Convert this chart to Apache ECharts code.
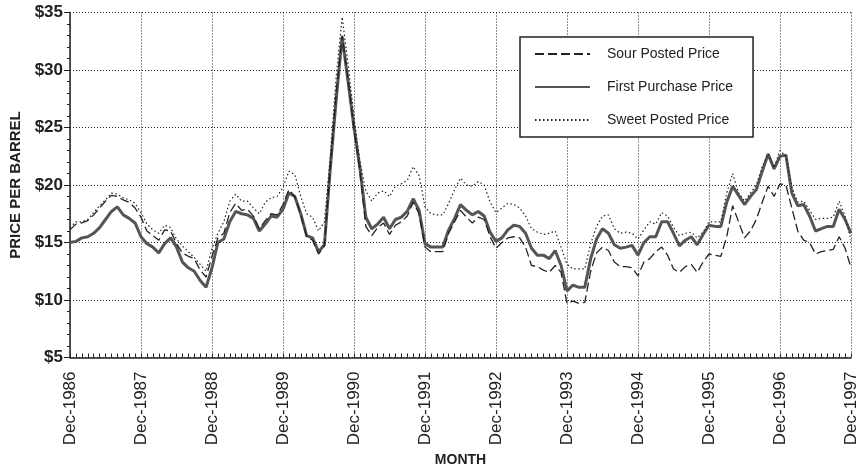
<!DOCTYPE html>
<html>
<head>
<meta charset="utf-8">
<script src="https://cdn.jsdelivr.net/npm/echarts@6/dist/echarts.min.js"></script>
<style>
  html, body { margin: 0; padding: 0; background: #fff; }
  #chart { width: 867px; height: 474px; }
</style>
</head>
<body>
<div id="chart"></div>
<script>
// monthly categories Dec-1986 .. Dec-1997
const monthNames = ['Jan','Feb','Mar','Apr','May','Jun','Jul','Aug','Sep','Oct','Nov','Dec'];
const months = [];
for (let i = 0; i <= 132; i++) {
  const mi = (11 + i) % 12;
  const yr = 1986 + Math.floor((11 + i) / 12);
  months.push(monthNames[mi] + '-' + yr);
}

const yTicks = [5, 10, 15, 20, 25, 30, 35];

const sourPosted = [
  16.1, 16.6, 16.7, 16.9, 17.4, 18.0, 18.6, 19.1, 19.0, 18.7, 18.5, 18.0, 17.2, 16.0, 15.6, 15.2, 16.1, 16.0, 14.9, 14.1, 13.8, 13.6, 12.6, 12.0, 13.8, 15.4, 15.8,
  17.6, 18.4, 17.8, 17.9, 17.3, 16.2, 16.9, 17.5, 17.4, 18.3, 19.6, 19.0, 17.4, 15.5, 15.2, 14.0, 14.7, 21.5, 28.0, 33.0, 29.2, 24.8, 21.2, 16.4, 15.6, 16.3, 16.7, 15.7,
  16.5, 16.8, 17.3, 18.5, 17.5, 14.6, 14.2, 14.2, 14.2, 15.8, 16.8, 17.8, 17.2, 16.7, 17.2, 17.0, 15.5, 14.5, 15.0, 15.4, 15.5, 15.4, 14.6, 13.0, 12.9, 12.6,
  12.4, 13.0, 12.4, 9.7, 9.9, 9.7, 9.8, 12.5, 14.1, 14.6, 14.3, 13.3, 12.9, 12.9, 12.8, 12.1, 13.3, 13.6, 14.2, 14.6, 13.9, 12.7, 12.4, 12.9, 13.1, 12.4, 13.3, 14.0,
  13.9, 13.8, 15.5, 18.2, 16.8, 15.4, 16.0, 17.0, 18.5, 19.9, 19.0, 20.1, 20.0, 18.0, 16.0, 15.2, 15.0, 14.0, 14.2, 14.3, 14.4, 15.5, 14.5, 12.8
];

const firstPurchase = [
  15.0, 15.1, 15.4, 15.5, 15.8, 16.3, 17.0, 17.7, 18.1, 17.4, 17.1, 16.7, 15.5, 14.9, 14.6, 14.1, 14.9, 15.4, 14.6, 13.3, 12.8, 12.5, 11.7, 11.1, 12.8, 15.0, 15.3,
  16.8, 17.7, 17.5, 17.4, 17.1, 16.0, 16.6, 17.3, 17.2, 17.9, 19.3, 19.0, 17.5, 15.6, 15.4, 14.2, 14.8, 21.5, 27.5, 32.9, 29.0, 25.0, 21.5, 17.2, 16.2, 16.6, 17.2, 16.2,
  17.0, 17.2, 17.7, 18.8, 17.8, 14.9, 14.6, 14.6, 14.6, 16.1, 17.1, 18.3, 17.8, 17.4, 17.7, 17.3, 15.9, 15.1, 15.4, 16.1, 16.5, 16.4, 15.8, 14.5, 13.9, 13.9,
  13.6, 14.3, 13.0, 10.8, 11.3, 11.1, 11.1, 13.6, 15.3, 16.2, 15.8, 14.8, 14.5, 14.6, 14.75, 13.9, 15.0, 15.5, 15.5, 16.8, 16.8, 15.8, 14.7, 15.2, 15.5, 14.8, 15.7, 16.5,
  16.4, 16.4, 18.5, 19.9, 19.1, 18.3, 19.0, 19.6, 21.2, 22.7, 21.4, 22.5, 22.6, 19.3, 18.2, 18.3, 17.3, 16.0, 16.2, 16.4, 16.4, 17.9, 17.0, 15.8
];

const sweetPosted = [
  16.3, 16.8, 16.8, 17.0, 17.6, 18.2, 18.7, 19.3, 19.2, 18.9, 18.7, 18.4, 17.6, 16.6, 16.1, 15.8, 16.5, 16.3, 15.3, 14.7, 14.2, 13.7, 13.1, 12.5, 14.5, 15.8, 16.8,
  18.6, 19.2, 18.6, 18.6, 18.0, 17.5, 18.5, 18.9, 19.0, 19.8, 21.2, 20.9, 19.0, 17.5, 17.2, 16.0, 16.8, 22.5, 29.5, 34.6, 30.5, 25.9, 22.0, 19.5, 18.6, 19.3, 19.5, 19.0,
  19.9, 20.1, 20.4, 21.6, 20.8, 18.1, 17.5, 17.4, 17.4, 18.4, 19.6, 20.6, 20.0, 19.9, 20.3, 20.0, 18.5, 17.6, 18.0, 18.4, 18.3, 18.0, 17.3, 16.2, 15.9, 15.7,
  15.8, 16.0, 14.6, 13.1, 12.7, 12.7, 12.7, 14.9, 16.4, 17.3, 17.4, 16.2, 15.8, 15.9, 15.8, 15.3, 16.1, 16.8, 16.6, 17.6, 17.3, 16.3, 15.6, 15.8, 15.9, 15.4, 15.9, 16.8,
  16.8, 16.8, 19.3, 21.0, 19.3, 18.6, 19.3, 20.0, 21.6, 22.7, 21.5, 23.0, 22.5, 19.8, 18.5, 18.6, 17.8, 17.0, 17.1, 17.1, 17.2, 18.6, 17.3, 15.2
];

const chart = echarts.init(document.getElementById('chart'));
const ink = '#222';
const everyDec = (i) => i % 12 === 0;

const option = {
  backgroundColor: '#fff',
  animation: false,
  textStyle: { fontFamily: 'Liberation Sans, Arial, sans-serif' },
  grid: { left: 70, right: 16, top: 12.5, bottom: 116.5, outerBoundsMode: 'none', containLabel: false },
  legend: {
    left: 520,
    top: 37,
    orient: 'vertical',
    backgroundColor: '#fff',
    borderColor: ink,
    borderWidth: 1.5,
    padding: [10, 20, 10, 14],
    itemGap: 19,
    itemWidth: 55,
    itemHeight: 14,
    itemStyle: { opacity: 0 },
    textStyle: { fontSize: 14, color: ink, padding: [0, 0, 0, 12] },
    data: ['Sour Posted Price', 'First Purchase Price', 'Sweet Posted Price']
  },
  xAxis: {
    type: 'category',
    data: months,
    boundaryGap: false,
    name: 'MONTH',
    nameLocation: 'middle',
    nameGap: 95,
    nameTextStyle: { fontSize: 14, fontWeight: 'bold', color: ink },
    axisLine: { lineStyle: { color: ink, width: 1.5 } },
    axisTick: { show: true, inside: true, interval: 0, length: 4, lineStyle: { color: ink } },
    axisLabel: { interval: everyDec, rotate: 90, margin: 14, fontSize: 17, color: ink },
    splitLine: { show: true, interval: everyDec, lineStyle: { color: ink, type: [1, 2], width: 1 } }
  },
  yAxis: {
    type: 'value',
    min: 5,
    max: 35,
    interval: 5,
    name: 'PRICE PER BARREL',
    nameLocation: 'middle',
    nameGap: 47,
    nameRotate: 90,
    nameTextStyle: { fontSize: 15, fontWeight: 'bold', color: ink },
    axisLine: { show: true, lineStyle: { color: ink, width: 1.5 } },
    axisTick: { show: true, length: 6, lineStyle: { color: ink } },
    minorTick: { show: true, splitNumber: 5, length: 3, lineStyle: { color: ink } },
    axisLabel: {
      fontSize: 17, fontWeight: 'bold', color: ink, margin: 7,
      formatter: (v) => yTicks.includes(v) ? '$' + v : ''
    },
    splitLine: { show: true, lineStyle: { color: ink, type: [1, 2], width: 1 } }
  },
  series: [
    {
      name: 'Sour Posted Price',
      type: 'line',
      data: sourPosted,
      symbol: 'none',
      color: ink,
      lineStyle: { color: ink, width: 1.3, type: [9, 4] },
      z: 3
    },
    {
      name: 'First Purchase Price',
      type: 'line',
      data: firstPurchase,
      symbol: 'none',
      color: '#555',
      lineStyle: { color: '#555', width: 3 },
      z: 2
    },
    {
      name: 'Sweet Posted Price',
      type: 'line',
      data: sweetPosted,
      symbol: 'none',
      color: ink,
      lineStyle: { color: ink, width: 1.2, type: [1.5, 2.5] },
      z: 4
    }
  ]
};

chart.setOption(option);
</script>
</body>
</html>
